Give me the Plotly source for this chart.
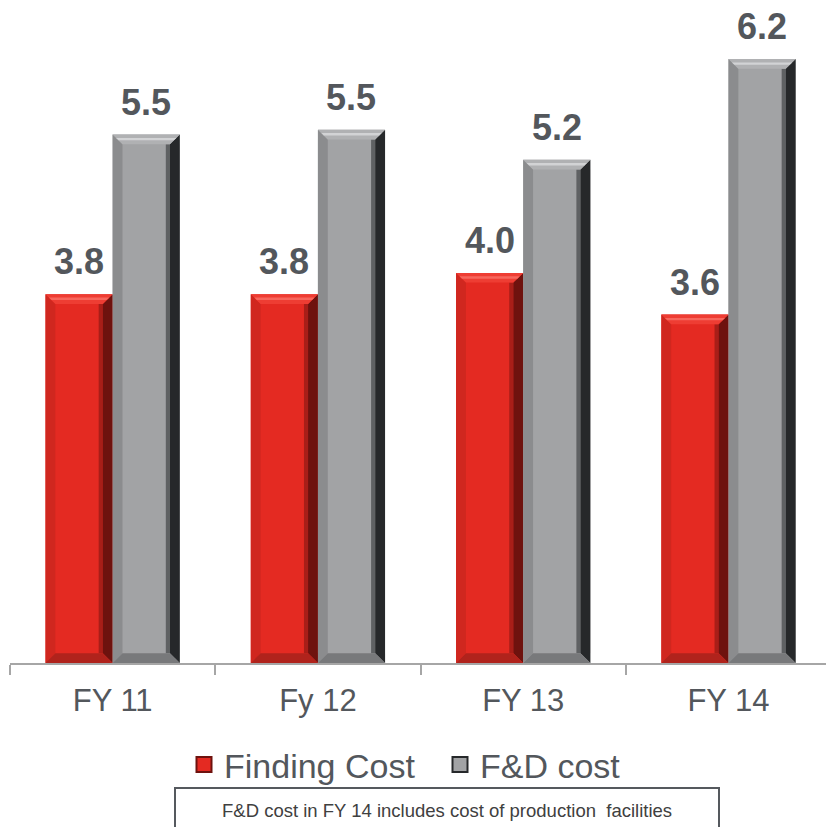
import plotly.graph_objects as go

categories = ["FY 11", "Fy 12", "FY 13", "FY 14"]
finding_cost = [3.81, 3.81, 4.03, 3.6]
fd_cost = [5.46, 5.51, 5.2, 6.24]
series_names = ["Finding Cost", "F&D cost"]
note_text = "F&D cost in FY 14 includes cost of production  facilities"

FONT = "Arial, 'Liberation Sans', sans-serif"
TXT = "#53575c"
x = list(range(len(categories)))
BW = 0.327

styles = [
    dict(face="#e42a22", top="#ee3d33", hi="#f7665c", left="#d0271f", right="#6e120e", rmid="#a81e18", bottom="#b0231c"),
    dict(face="#a2a3a5", top="#b0b1b3", hi="#d2d3d5", left="#8b8c8e", right="#26282a", rmid="#5f6163", bottom="#78797b"),
]

fig = go.Figure()
offsets = [-BW, 0.0]
for name, vals, off, st in zip(series_names, [finding_cost, fd_cost], offsets, styles):
    fig.add_trace(go.Bar(
        x=x, y=vals, name=name, width=BW, offset=off, showlegend=False,
        marker=dict(color=st["face"], line=dict(width=0)),
    ))
    fig.add_trace(go.Scatter(
        x=[None], y=[None], mode="markers", name=name, showlegend=True,
        marker=dict(symbol="square", size=15, color=st["face"], line=dict(color=st["right"], width=2)),
    ))


def path(pts):
    return "M " + " L ".join(f"{a:.4f},{b:.4f}" for a, b in pts) + " Z"


shapes = []
annotations = []
bx, by = 0.048, 0.10
for vals, off, st in zip([finding_cost, fd_cost], offsets, styles):
    for i, v in zip(x, vals):
        L = i + off
        R = L + BW
        T = v
        base = dict(type="path", xref="x", yref="y", line=dict(width=0), layer="above")
        shapes.append(dict(base, fillcolor=st["left"],
                           path=path([(L, 0), (L, T), (L + bx, T - by), (L + bx, by)])))
        shapes.append(dict(base, fillcolor=st["rmid"],
                           path=path([(R - bx - 0.02, by), (R - bx - 0.02, T - by), (R - bx, T - by), (R - bx, by)])))
        shapes.append(dict(base, fillcolor=st["right"],
                           path=path([(R, 0), (R, T), (R - bx, T - by), (R - bx, by)])))
        shapes.append(dict(base, fillcolor=st["top"],
                           path=path([(L, T), (R, T), (R - bx, T - by), (L + bx, T - by)])))
        shapes.append(dict(base, fillcolor=st["hi"],
                           path=path([(L + bx * 0.35, T - by * 0.35), (R - bx * 0.35, T - by * 0.35),
                                      (R - bx * 0.6, T - by * 0.6), (L + bx * 0.6, T - by * 0.6)])))
        shapes.append(dict(base, fillcolor=st["bottom"],
                           path=path([(L, 0), (R, 0), (R - bx, by), (L + bx, by)])))
        annotations.append(dict(x=L + BW / 2, y=T, xref="x", yref="y", text=f"<b>{v:.1f}</b>",
                                showarrow=False, yanchor="bottom", yshift=10,
                                font=dict(family=FONT, size=36, color=TXT)))

# note box
shapes.append(dict(type="rect", xref="paper", yref="paper", x0=(175 - 10) / 816, x1=(719 - 10) / 816,
                   y0=(663 - 788) / 663, y1=(663 - 860) / 663, line=dict(color="#55595e", width=2)))
annotations.append(dict(x=(446.5 - 10) / 816, y=(663 - 810) / 663, xref="paper", yref="paper",
                        text=note_text, showarrow=False, xanchor="center", yanchor="middle",
                        font=dict(family=FONT, size=18.5, color="#404040")))

fig.update_layout(
    width=826, height=827,
    margin=dict(l=10, r=0, t=0, b=164),
    paper_bgcolor="white", plot_bgcolor="white",
    shapes=shapes, annotations=annotations,
    showlegend=True,
    legend=dict(orientation="h", x=(184 - 10) / 816, xanchor="left", y=-102 / 663, yanchor="middle",
                bgcolor="rgba(0,0,0,0)", entrywidth=211, entrywidthmode="pixels",
                font=dict(family=FONT, size=34, color=TXT), itemwidth=30, traceorder="normal"),
    xaxis=dict(
        range=[-0.5, 3.475], tickvals=x, ticktext=categories, ticks="", showgrid=False, zeroline=False,
        showline=True, linecolor="#a6a6a6", linewidth=2,
        tickfont=dict(family=FONT, size=31, color=TXT), ticklabelstandoff=9,
        minor=dict(tickvals=[-0.5, 0.5, 1.5, 2.5, 3.5], ticks="outside", ticklen=10, tickcolor="#a6a6a6",
                   tickwidth=2, showgrid=False),
    ),
    yaxis=dict(range=[0, 6.85], visible=False, showgrid=False, zeroline=False),
)

fig.write_html("out.html")
